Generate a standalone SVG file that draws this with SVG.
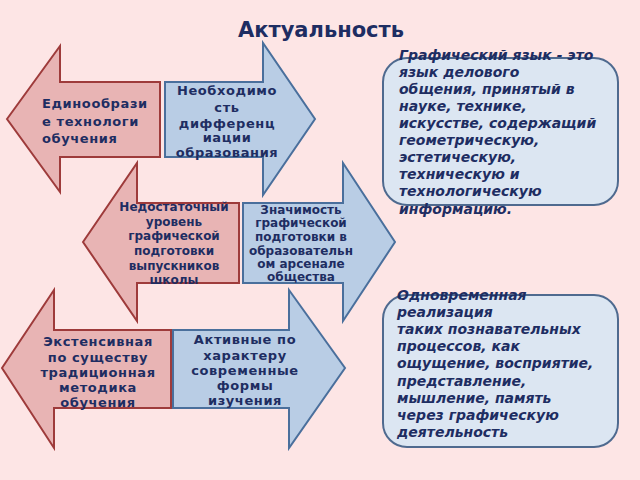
<svg xmlns="http://www.w3.org/2000/svg" width="640" height="480" viewBox="0 0 640 480">
<style>
.red{fill:#e8b4b4;stroke:#9e3b3b;stroke-width:2;stroke-linejoin:miter}
.blue{fill:#b9cde5;stroke:#4a6f9c;stroke-width:2;stroke-linejoin:miter}
.box{fill:#dce6f2;stroke:#4f6a8f;stroke-width:2}
.t{font-family:"DejaVu Sans","Noto Sans",sans-serif;font-weight:bold;fill:#1e2d62}
.c{text-anchor:middle}
.s{letter-spacing:0.6px}
.i{font-style:italic;font-size:14px}
</style>
<rect width="640" height="480" fill="#fde5e5"/>
<text class="t c" x="321" y="37" font-size="21">Актуальность</text>
<g id="connectors"/>
<g id="arrow-left-1">
<polygon class="red" points="7,119 60,46 60,82 160,82 160,157 60,157 60,192"/>
<text class="t s" font-size="13"><tspan x="42" y="108">Единообрази</tspan><tspan x="42" y="126">е технологи</tspan><tspan x="42" y="143">обучения</tspan></text>
</g>
<g id="arrow-right-1">
<polygon class="blue" points="165,82 263,82 263,43 315,119 263,195 263,157 165,157"/>
<text class="t c s" font-size="13"><tspan x="227" y="95">Необходимо</tspan><tspan x="227" y="112">сть</tspan><tspan x="227" y="128">дифференц</tspan><tspan x="227" y="142">иации</tspan><tspan x="227" y="157">образования</tspan></text>
</g>
<g id="arrow-left-2">
<polygon class="red" points="83,242 137,163 137,203 239,203 239,283 137,283 137,321"/>
<text class="t c" font-size="12"><tspan x="174" y="211">Недостаточный</tspan><tspan x="174" y="226">уровень</tspan><tspan x="174" y="240">графической</tspan><tspan x="174" y="255">подготовки</tspan><tspan x="174" y="270">выпускников</tspan><tspan x="174" y="284">школы</tspan></text>
</g>
<g id="arrow-right-2">
<polygon class="blue" points="243,203 343,203 343,163 395,242 343,321 343,283 243,283"/>
<text class="t c" font-size="12"><tspan x="301" y="214">Значимость</tspan><tspan x="301" y="227">графической</tspan><tspan x="301" y="241">подготовки  в</tspan><tspan x="301" y="255">образовательн</tspan><tspan x="301" y="268">ом арсенале</tspan><tspan x="301" y="281">общества</tspan></text>
</g>
<g id="arrow-left-3">
<polygon class="red" points="2,368 54,290 54,330 171,330 171,408 54,408 54,448"/>
<text class="t c s" font-size="13"><tspan x="98" y="346">Экстенсивная</tspan><tspan x="98" y="362">по существу</tspan><tspan x="98" y="377">традиционная</tspan><tspan x="98" y="392">методика</tspan><tspan x="98" y="407">обучения</tspan></text>
</g>
<g id="arrow-right-3">
<polygon class="blue" points="173,330 289,330 289,290 345,368 289,448 289,408 173,408"/>
<text class="t c s" font-size="13"><tspan x="245" y="344">Активные по</tspan><tspan x="245" y="360">характеру</tspan><tspan x="245" y="375">современные</tspan><tspan x="245" y="390">формы</tspan><tspan x="245" y="405">изучения</tspan></text>
</g>
<g id="box-1">
<rect class="box" x="383" y="58" width="235" height="147" rx="24"/>
<text class="t i"><tspan x="399" y="60">Графический язык  - это</tspan><tspan x="399" y="77">язык делового</tspan><tspan x="399" y="94">общения, принятый в</tspan><tspan x="399" y="111">науке, технике,</tspan><tspan x="399" y="128">искусстве, содержащий</tspan><tspan x="399" y="145">геометрическую,</tspan><tspan x="399" y="162">эстетическую,</tspan><tspan x="399" y="179">техническую и</tspan><tspan x="399" y="196">технологическую</tspan><tspan x="399" y="214">информацию.</tspan></text>
</g>
<g id="box-2">
<rect class="box" x="383" y="295" width="235" height="152" rx="24"/>
<text class="t i"><tspan x="397" y="300">Одновременная</tspan><tspan x="397" y="317">реализация</tspan><tspan x="397" y="334">таких познавательных</tspan><tspan x="397" y="351">процессов, как</tspan><tspan x="397" y="368">ощущение, восприятие,</tspan><tspan x="397" y="386">представление,</tspan><tspan x="397" y="403">мышление, память</tspan><tspan x="397" y="420">через графическую</tspan><tspan x="397" y="437">деятельность</tspan></text>
</g>
</svg>
